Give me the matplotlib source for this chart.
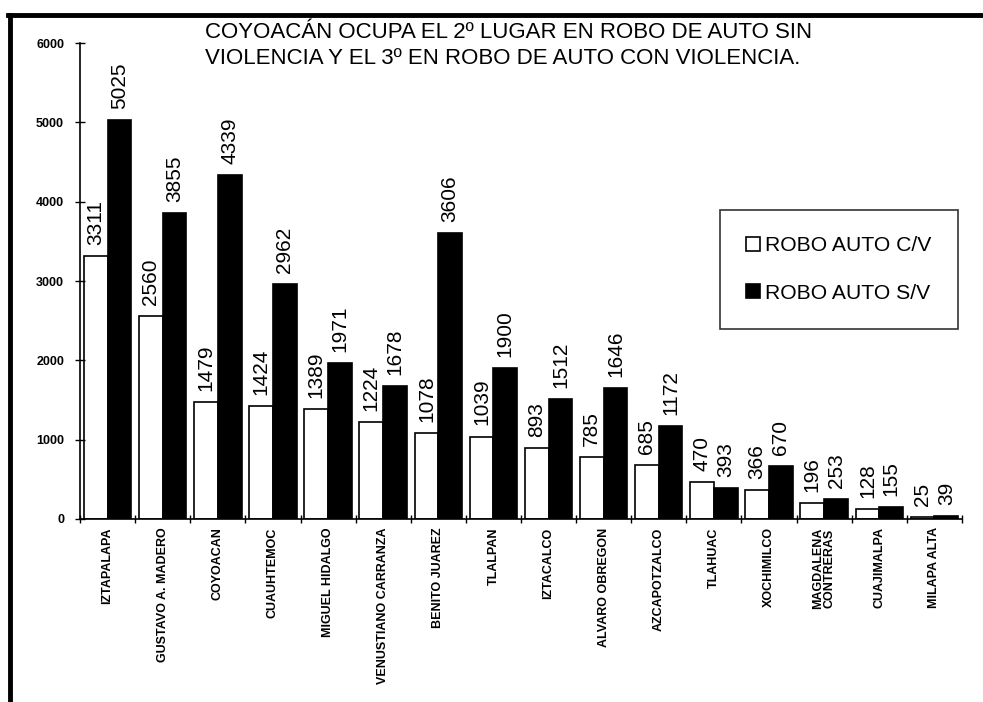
import numpy as np
import matplotlib
matplotlib.use("Agg")
import matplotlib.pyplot as plt
from matplotlib.lines import Line2D

plt.rcParams['font.family'] = ['Liberation Sans', 'DejaVu Sans']

alcaldias = ["IZTAPALAPA", "GUSTAVO A. MADERO", "COYOACAN", "CUAUHTEMOC",
             "MIGUEL HIDALGO", "VENUSTIANO CARRANZA", "BENITO JUAREZ", "TLALPAN",
             "IZTACALCO", "ALVARO OBREGON", "AZCAPOTZALCO", "TLAHUAC",
             "XOCHIMILCO", "MAGDALENA\nCONTRERAS", "CUAJIMALPA", "MILAPA ALTA"]
con_violencia = [3311, 2560, 1479, 1424, 1389, 1224, 1078, 1039,
                 893, 785, 685, 470, 366, 196, 128, 25]
sin_violencia = [5025, 3855, 4339, 2962, 1971, 1678, 3606, 1900,
                 1512, 1646, 1172, 393, 670, 253, 155, 39]
y_ticks = [0, 1000, 2000, 3000, 4000, 5000, 6000]

titulo = ("COYOACÁN OCUPA EL 2º LUGAR EN ROBO DE AUTO SIN\n"
          "VIOLENCIA Y EL 3º EN ROBO DE AUTO CON VIOLENCIA.")

fig = plt.figure(figsize=(9.83, 7.02), dpi=100)
ax = fig.add_axes([0.0814, 0.2607, 0.8972, 0.678])

x = np.arange(len(alcaldias))
w = 0.43
b1 = ax.bar(x - w / 2, con_violencia, w, color='white', edgecolor='black',
            linewidth=1.2, label='ROBO AUTO C/V')
b2 = ax.bar(x + w / 2, sin_violencia, w, color='black', edgecolor='black',
            linewidth=1.2, label='ROBO AUTO S/V')

for bars, vals in ((b1, con_violencia), (b2, sin_violencia)):
    for r, v in zip(bars, vals):
        ax.annotate(str(v), (r.get_x() + r.get_width() / 2, v),
                    xytext=(0, 8), textcoords='offset points',
                    rotation=90, ha='center', va='bottom', fontsize=15)

ax.set_xlim(-0.5, len(alcaldias) - 0.5)
ax.set_ylim(0, 6000)
ax.set_yticks(y_ticks)
ax.set_yticklabels([str(t) for t in y_ticks], fontsize=9, fontweight='bold')
ax.tick_params(axis='y', direction='inout', length=7, width=1, pad=8)

ax.set_xticks(x)
ax.set_xticklabels(alcaldias, rotation=90, fontsize=9, fontweight='bold',
                   va='top', ha='center', linespacing=0.95,
                   family=['Liberation Sans Narrow', 'Liberation Sans'])
ax.tick_params(axis='x', length=0, pad=6)
ax.set_xticks(np.arange(len(alcaldias) + 1) - 0.5, minor=True)
ax.tick_params(axis='x', which='minor', direction='inout', length=6, width=1)

for s in ('top', 'right'):
    ax.spines[s].set_visible(False)
for s in ('left', 'bottom'):
    ax.spines[s].set_linewidth(1.2)

fig.text(0.2085, 0.968, titulo, fontsize=16, va='top', ha='left',
         linespacing=1.3)

leg = ax.legend(loc='upper left', bbox_to_anchor=(0.7325, 0.701),
                bbox_transform=fig.transFigure, frameon=True, fancybox=False,
                fontsize=15.2, handlelength=0.65, handleheight=0.65,
                handletextpad=0.25, labelspacing=1.35, borderpad=1.25,
                borderaxespad=0)
leg.get_frame().set_edgecolor('black')
leg.get_frame().set_linewidth(1.2)

# marco de la figura (solo izquierda y arriba)
fig.add_artist(Line2D([0.01, 0.01], [0.0, 0.978], color='black', lw=3.5,
                      transform=fig.transFigure))
fig.add_artist(Line2D([0.008, 1.0], [0.978, 0.978], color='black', lw=3.5,
                      transform=fig.transFigure))

fig.savefig('out.png', dpi=100)
